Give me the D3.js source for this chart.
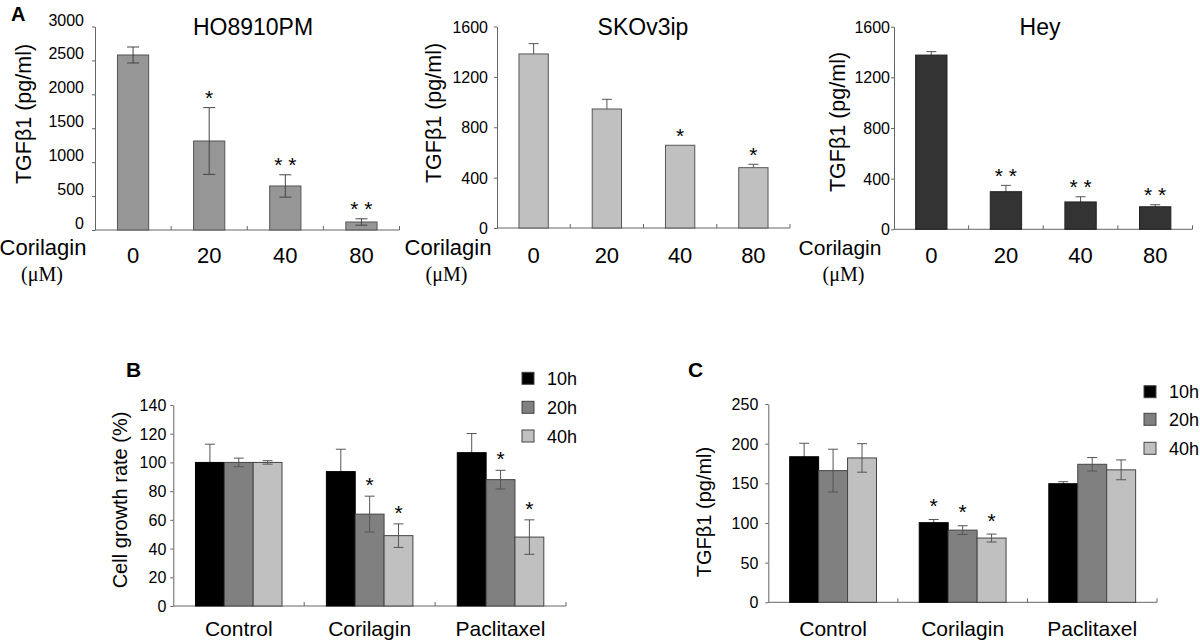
<!DOCTYPE html>
<html><head><meta charset="utf-8">
<script src="https://cdn.jsdelivr.net/npm/d3@7"></script>
<style>
html,body{margin:0;padding:0;background:#fff;}
svg{display:block;font-family:"Liberation Sans",Arial,sans-serif;}
</style></head>
<body>
<svg id="chart" width="1200" height="642"></svg>
<script>
// ---------- DATA ----------
const doseLabels = ["0", "20", "40", "80"];
const ho8910Values = [2580, 1312, 649, 118];
const ho8910Err = [118, 492, 165, 47];
const ho8910Sig = ["", "*", "* *", "* *"];
const skov3Values = [1382, 945, 657, 479];
const skov3Err = [82, 77, 0, 27];
const skov3Sig = ["", "", "*", "*"];
const heyValues = [1376, 297, 216, 178];
const heyErr = [27, 50, 41, 16];
const heySig = ["", "* *", "* *", "* *"];
const ticksA1 = [0, 500, 1000, 1500, 2000, 2500, 3000];
const ticksA23 = [0, 400, 800, 1200, 1600];

const treatments = ["Control", "Corilagin", "Paclitaxel"];
const timeLabels = ["10h", "20h", "40h"];
const growth10h = [100, 93.6, 106.8];
const growth20h = [100, 64, 88];
const growth40h = [100, 49, 48];
const growthErr10h = [12.7, 15.6, 13.3];
const growthErr20h = [3, 12.5, 6.5];
const growthErr40h = [1.2, 8.2, 12];
const growthSig20h = ["", "*", "*"];
const growthSig40h = ["", "*", "*"];
const ticksB = [0, 20, 40, 60, 80, 100, 120, 140];

const tgf10h = [183.5, 100.4, 149.5];
const tgf20h = [166, 91, 174];
const tgf40h = [182, 81, 167];
const tgfErr10h = [17, 4, 2.5];
const tgfErr20h = [27, 5.5, 8.5];
const tgfErr40h = [18, 5, 12.5];
const tgfSig10h = ["", "*", ""];
const tgfSig20h = ["", "*", ""];
const tgfSig40h = ["", "*", ""];
const ticksC = [0, 50, 100, 150, 200, 250];

const seriesColors = ["#000000", "#808080", "#c0c0c0"];

// ---------- DRAW ----------
const svg = d3.select("#chart");
const AXIS = "#666";

function drawAxes(g, x, y, cfg) {
  const yAx = d3.axisLeft(y).tickValues(cfg.ticks).tickFormat(d3.format("d"))
    .tickSize(3).tickPadding(cfg.tickPad).tickSizeOuter(0);
  const ya = g.append("g").attr("transform", `translate(${cfg.x0},0)`).call(yAx);
  ya.select(".domain").attr("stroke", AXIS);
  ya.selectAll(".tick line").attr("stroke", AXIS);
  ya.selectAll(".tick text").attr("font-size", cfg.tickFont).attr("fill", "#000")
    .attr("font-family", "Liberation Sans, Arial, sans-serif")
    .attr("dy", (cfg.labelShift || 0) + 5.5 + "px");
  g.append("line").attr("x1", cfg.x0).attr("x2", cfg.x1).attr("y1", cfg.yBase).attr("y2", cfg.yBase)
    .attr("stroke", AXIS);
  x.domain().forEach(c => {
    const bx = x(c) + x.bandwidth();
    g.append("line").attr("x1", bx).attr("x2", bx).attr("y1", cfg.yBase).attr("y2", cfg.yBase - 4)
      .attr("stroke", AXIS);
  });
}

function errBar(g, cx, yTop, yBot, cap, color) {
  g.append("line").attr("x1", cx).attr("x2", cx).attr("y1", yTop).attr("y2", yBot).attr("stroke", color);
  g.append("line").attr("x1", cx - cap / 2).attr("x2", cx + cap / 2).attr("y1", yTop).attr("y2", yTop).attr("stroke", color);
  g.append("line").attr("x1", cx - cap / 2).attr("x2", cx + cap / 2).attr("y1", yBot).attr("y2", yBot).attr("stroke", color);
}

function simplePanel(cfg) {
  const g = svg.append("g");
  const x = d3.scaleBand().domain(doseLabels).range([cfg.x0, cfg.x1]).padding(0);
  const y = d3.scaleLinear().domain([0, cfg.ticks[cfg.ticks.length - 1]]).range([cfg.yBase, cfg.yTop]);
  drawAxes(g, x, y, cfg);
  const bw = x.bandwidth() * cfg.barFrac;
  const drawErr = (eg) => {
    doseLabels.forEach((d, i) => {
      if (!cfg.err[i]) return;
      const cx = x(d) + x.bandwidth() / 2;
      errBar(eg, cx, y(cfg.values[i] + cfg.err[i]), y(cfg.values[i] - cfg.err[i]), cfg.cap, cfg.errColor);
    });
  };
  if (cfg.errBehind) drawErr(g.append("g"));
  g.append("g").selectAll("rect").data(cfg.values).join("rect")
    .attr("x", (v, i) => x(doseLabels[i]) + (x.bandwidth() - bw) / 2)
    .attr("width", bw)
    .attr("y", v => y(v)).attr("height", v => cfg.yBase - y(v))
    .attr("fill", cfg.fill).attr("stroke", cfg.stroke).attr("stroke-width", 1);
  if (!cfg.errBehind) drawErr(g.append("g"));
  doseLabels.forEach((d, i) => {
    if (!cfg.sig[i]) return;
    const cx = x(d) + x.bandwidth() / 2;
    g.append("text").attr("x", cx).attr("y", y(cfg.values[i] + cfg.err[i]) - 2.5)
      .attr("text-anchor", "middle").attr("font-size", 21).attr("xml:space", "preserve")
      .text(cfg.sig[i]);
  });
  doseLabels.forEach(d => {
    g.append("text").attr("x", x(d) + x.bandwidth() / 2).attr("y", 263)
      .attr("text-anchor", "middle").attr("font-size", 22).text(d);
  });
  g.append("text").attr("x", cfg.titleX).attr("y", 35).attr("text-anchor", "middle")
    .attr("font-size", 23).text(cfg.title);
  g.append("text").attr("transform", `translate(${cfg.ylabX},${cfg.ylabY}) rotate(-90)`)
    .attr("text-anchor", "middle").attr("font-size", 21.5).text("TGFβ1 (pg/ml)");
  g.append("text").attr("x", cfg.corX).attr("y", 255).attr("text-anchor", "middle")
    .attr("font-size", cfg.corFont || 22).text("Corilagin");
  g.append("text").attr("x", cfg.umX).attr("y", 281).attr("text-anchor", "middle")
    .attr("font-size", 20).attr("font-family", "Liberation Serif, Times New Roman, serif").text("(μM)");
}

simplePanel({
  x0: 95, x1: 399.5, yBase: 230, yTop: 26.5, ticks: ticksA1, tickPad: 8, tickFont: 16, labelShift: -7,
  values: ho8910Values, err: ho8910Err, sig: ho8910Sig, fill: "#969696", stroke: "#555",
  barFrac: 0.41, cap: 12, errColor: "#444", errBehind: false,
  title: "HO8910PM", titleX: 253, ylabX: 31, ylabY: 114, corX: 43, umX: 42
});
simplePanel({
  x0: 497, x1: 790, yBase: 228, yTop: 26.5, ticks: ticksA23, tickPad: 6, tickFont: 16,
  values: skov3Values, err: skov3Err, sig: skov3Sig, fill: "#c0c0c0", stroke: "#555",
  barFrac: 0.4, cap: 10, errColor: "#555", errBehind: true,
  title: "SKOv3ip", titleX: 643, ylabX: 441, ylabY: 113, corX: 448, umX: 446.5
});
simplePanel({
  x0: 894, x1: 1192.5, yBase: 229.3, yTop: 26.7, ticks: ticksA23, tickPad: 1, tickFont: 16,
  values: heyValues, err: heyErr, sig: heySig, fill: "#333333", stroke: "#222",
  barFrac: 0.42, cap: 10, errColor: "#555", errBehind: true,
  title: "Hey", titleX: 1040, ylabX: 845, ylabY: 122, corX: 840, corFont: 21, umX: 843.5
});
svg.append("text").attr("x", 11).attr("y", 21).attr("font-size", 20).attr("font-weight", "bold").text("A");

function groupedPanel(cfg) {
  const g = svg.append("g");
  const x = d3.scaleBand().domain(treatments).range([cfg.x0, cfg.x1]).padding(0);
  const y = d3.scaleLinear().domain([0, cfg.ticks[cfg.ticks.length - 1]]).range([cfg.yBase, cfg.yTop]);
  drawAxes(g, x, y, cfg);
  const gw = x.bandwidth() * cfg.groupFrac;
  const xs = d3.scaleBand().domain(timeLabels).range([0, gw]).padding(0);
  cfg.series.forEach((vals, s) => {
    const errs = cfg.errs[s];
    const behind = s === 0;
    const eg = g.append("g");
    const bars = g.append("g");
    const eg2 = g.append("g");
    treatments.forEach((t, i) => {
      const bx = x(t) + (x.bandwidth() - gw) / 2 + xs(timeLabels[s]);
      bars.append("rect").attr("x", bx).attr("width", xs.bandwidth())
        .attr("y", y(vals[i])).attr("height", cfg.yBase - y(vals[i]))
        .attr("fill", seriesColors[s]).attr("stroke", s === 0 ? "#000" : "#444").attr("stroke-width", 1);
      const cx = bx + xs.bandwidth() / 2;
      errBar(behind ? eg : eg2, cx, y(vals[i] + errs[i]), y(vals[i] - errs[i]), cfg.cap, "#555");
      const sg = cfg.sigs[s];
      if (sg && sg[i]) {
        g.append("text").attr("x", cx).attr("y", y(vals[i] + errs[i]) + cfg.sigOff)
          .attr("text-anchor", "middle").attr("font-size", 21).text(sg[i]);
      }
    });
  });
  treatments.forEach(t => {
    g.append("text").attr("x", x(t) + x.bandwidth() / 2).attr("y", 636)
      .attr("text-anchor", "middle").attr("font-size", 21).text(t);
  });
  g.append("text").attr("transform", `translate(${cfg.ylabX},${cfg.ylabY}) rotate(-90)`)
    .attr("text-anchor", "middle").attr("font-size", 20).text(cfg.ylabel);
  g.append("text").attr("x", cfg.letterX).attr("y", 377).attr("font-size", 21).attr("font-weight", "bold").text(cfg.letter);
  timeLabels.forEach((lab, s) => {
    const cy = cfg.legY[s];
    g.append("rect").attr("x", cfg.legX).attr("y", cy - 6).attr("width", 12).attr("height", 12)
      .attr("fill", seriesColors[s]).attr("stroke", "#444");
    g.append("text").attr("x", cfg.legX + 25).attr("y", cy + 6.5).attr("font-size", 18).text(lab);
  });
}

groupedPanel({
  x0: 173.3, x1: 566, yBase: 606, yTop: 405, ticks: ticksB, tickPad: 4, tickFont: 16,
  series: [growth10h, growth20h, growth40h], errs: [growthErr10h, growthErr20h, growthErr40h],
  sigs: [null, growthSig20h, growthSig40h], groupFrac: 0.661, cap: 10, sigOff: -4,
  ylabel: "Cell growth rate (%)", ylabX: 127, ylabY: 500, letter: "B", letterX: 126,
  legX: 522, legY: [378.3, 407.3, 436]
});
groupedPanel({
  x0: 768.3, x1: 1157, yBase: 602.3, yTop: 404, ticks: ticksC, tickPad: 7, tickFont: 16,
  series: [tgf10h, tgf20h, tgf40h], errs: [tgfErr10h, tgfErr20h, tgfErr40h],
  sigs: [tgfSig10h, tgfSig20h, tgfSig40h], groupFrac: 0.67, cap: 10, sigOff: -6.5,
  ylabel: "TGFβ1 (pg/ml)", ylabX: 711, ylabY: 512, letter: "C", letterX: 688,
  legX: 1144, legY: [391.7, 419.3, 448.3]
});
</script>
</body></html>
